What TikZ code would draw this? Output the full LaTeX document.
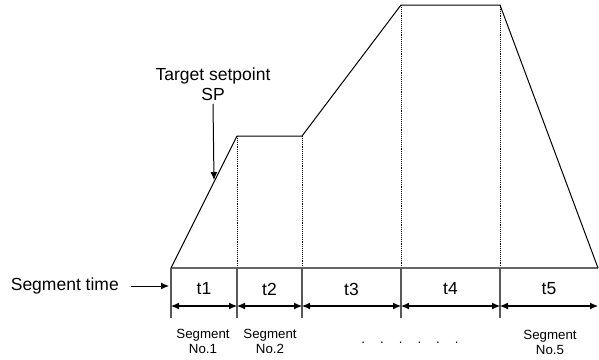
\documentclass[tikz,border=0pt]{standalone}
\usepackage{fontspec}
\setmainfont{Liberation Sans}
\usetikzlibrary{arrows.meta}
\begin{document}
\begin{tikzpicture}[x=1pt,y=-1pt,
  prof/.style={line width=1pt,black},
  base/.style={line width=1.6pt,black!60},
  tick/.style={line width=1.2pt,black!65},
  guide/.style={line width=0.9pt,densely dotted},
  dim/.style={line width=1.1pt,{Latex[length=8pt,width=7pt]}-{Latex[length=8pt,width=7pt]}},
  ptr/.style={line width=1pt,-{Latex[length=8pt,width=7pt]}},
  big/.style={font=\fontsize{17.5}{20}\selectfont,inner sep=1pt},
  small/.style={font=\fontsize{13.3}{15}\selectfont,align=center,inner sep=0pt}]
\useasboundingbox (0,0) rectangle (599,359);
% profile points
\coordinate (p0) at (171,268);
\coordinate (p1) at (237,136);
\coordinate (p2) at (302,136);
\coordinate (p3) at (401,5);
\coordinate (p4) at (500,5);
\coordinate (p5) at (598,268);
% baseline points
\coordinate (b1) at (237,268);
\coordinate (b2) at (302,268);
\coordinate (b3) at (401,268);
\coordinate (b4) at (500,268);
% dotted guides
\draw[guide] (p1) -- (b1);
\draw[guide] (p2) -- (b2);
\draw[guide] (p3) -- (b3);
\draw[guide] (p4) -- (b4);
% baseline
\draw[base] (p0) -- (p5);
% profile
\draw[prof,line join=round] (p0) -- (p1) -- (p2) -- (p3) -- (p4) -- (p5);
% ticks
\foreach \i/\x in {0/171,1/237,2/302,3/401,4/500}{
  \coordinate (tt\i) at (\x,268);
  \coordinate (tb\i) at (\x,318);
  \coordinate (a\i) at (\x,306);
  \draw[tick] (tt\i) -- (tb\i);
}
\coordinate (a5) at (598,306);
\draw[dim] (a0) -- (a1);
\draw[dim] (a1) -- (a2);
\draw[dim] (a2) -- (a3);
\draw[dim] (a3) -- (a4);
\draw[dim] (a4) -- (a5);
% t labels
\node[big] (t1) at (204,289) {t1};
\node[big] (t2) at (269.5,289) {t2};
\node[big] (t3) at (351.5,289) {t3};
\node[big] (t4) at (450.5,289) {t4};
\node[big] (t5) at (549,289) {t5};
% segment time
\node[big,anchor=east] (st) at (120,286) {Segment time};
\coordinate (stend) at (169,286);
\draw[ptr] (st.east) ++(11,0) coordinate (ststart) -- (stend);
% target setpoint
\node[big,align=center] (tsp) at (213,84) {Target setpoint\\SP};
\coordinate (sptip) at (214,180);
\draw[ptr] (213,104) coordinate (spstart) -- (sptip);
% segment labels
\node[small] (s1) at (203,341) {Segment\\No.1};
\node[small] (s2) at (270,341) {Segment\\No.2};
\node[small] (s5) at (550,342) {Segment\\No.5};
\node[font=\fontsize{13.3}{15}\selectfont] (dots) at (410,343) {.\hspace{15pt}.\hspace{15pt}.\hspace{15pt}.\hspace{15pt}.\hspace{15pt}.};
\end{tikzpicture}
\end{document}
